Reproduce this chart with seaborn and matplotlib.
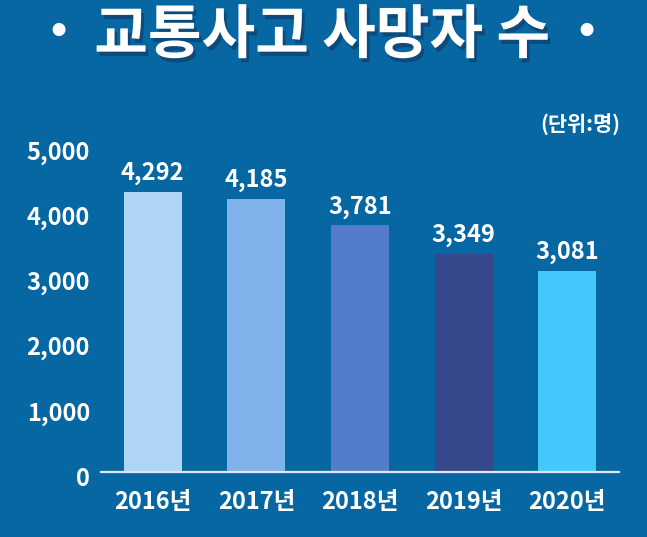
import matplotlib
matplotlib.use('Agg')
import matplotlib.pyplot as plt
import matplotlib.patheffects as pe
import seaborn as sns
import pandas as pd

# ---- data ----
years = ['2016년', '2017년', '2018년', '2019년', '2020년']
deaths = [4292, 4185, 3781, 3349, 3081]
bar_colors = ['#afd5f6', '#80b2ec', '#537dca', '#37478c', '#44c8fc']
y_ticks = [0, 1000, 2000, 3000, 4000, 5000]
y_tick_labels = ['0', '1,000', '2,000', '3,000', '4,000', '5,000']
title_text = '교통사고 사망자 수'
unit_text = '(단위:명)'

BG = '#0667a3'
W, H = 647, 537

sns.set_theme(style='white')
plt.rcParams['font.family'] = ['Noto Sans CJK KR', 'DejaVu Sans']

fig = plt.figure(figsize=(W / 100, H / 100), dpi=100, facecolor=BG)
ax = fig.add_axes([101 / W, 65 / H, 518 / W, 326 / H])
ax.set_facecolor(BG)

df = pd.DataFrame({'year': years, 'deaths': deaths})
sns.barplot(data=df, x='year', y='deaths', hue='year', palette=bar_colors,
            width=0.56, legend=False, ax=ax, saturation=1, linewidth=0)

ax.set_xlim(-0.5, 4.5)
ax.set_ylim(0, 5000)
ax.set_yticks(y_ticks)
ax.set_yticklabels(y_tick_labels)
ax.set_xlabel('')
ax.set_ylabel('')

for s in ['top', 'right', 'left']:
    ax.spines[s].set_visible(False)
ax.spines['bottom'].set_color('#dce9f4')
ax.spines['bottom'].set_linewidth(1.6)

ax.tick_params(axis='y', length=0, pad=8, labelsize=17, labelcolor='white')
ax.tick_params(axis='x', length=0, pad=13, labelsize=17, labelcolor='white')
for lab in ax.get_yticklabels():
    lab.set_fontweight('bold')
    lab.set_verticalalignment('top')
for lab in ax.get_xticklabels():
    lab.set_fontweight('bold')
# shift y labels slightly downward like the reference
from matplotlib.transforms import ScaledTranslation
for lab in ax.get_yticklabels():
    lab.set_verticalalignment('center_baseline')
    lab.set_transform(lab.get_transform() + ScaledTranslation(0, -3 / 72, fig.dpi_scale_trans))

for c in ax.containers:
    ax.bar_label(c, fmt='{:,.0f}', padding=5, color='white',
                 fontsize=17, fontweight='bold')

# title
shadow = [pe.withSimplePatchShadow(offset=(2, -3), shadow_rgbFace='#0d4a7a', alpha=1)]
fig.text(322 / W, 1 - 36 / H, title_text, ha='center', va='center',
         color='white', fontsize=42, fontweight='black', path_effects=shadow)
fig.text(58 / W, 1 - 33 / H, '•', ha='center', va='center', color='white',
         fontsize=32, family='DejaVu Sans')
fig.text(586 / W, 1 - 33 / H, '•', ha='center', va='center', color='white',
         fontsize=32, family='DejaVu Sans')

# unit label
fig.text(620 / W, 1 - 125 / H, unit_text, ha='right', va='center',
         color='white', fontsize=15, fontweight='bold')

fig.savefig('out.png', dpi=100, facecolor=BG)
